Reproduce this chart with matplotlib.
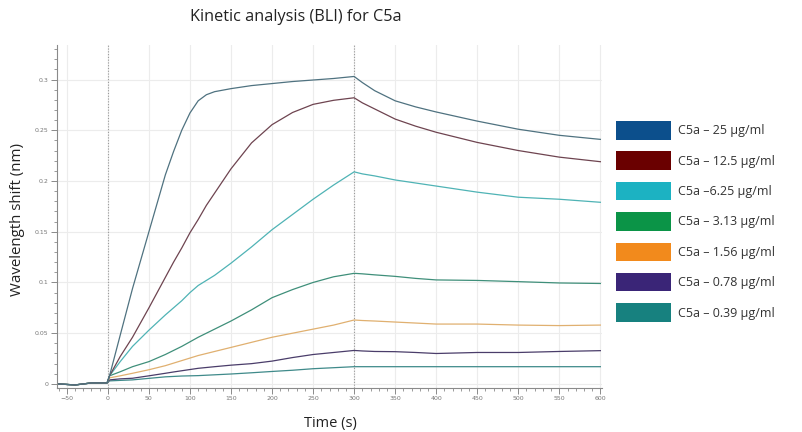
import matplotlib
matplotlib.use("Agg")
import matplotlib.pyplot as plt
from matplotlib.patches import Patch
from matplotlib.ticker import MultipleLocator, FuncFormatter

# ---- data ----
time_s = [-60, -40, -20, -1, 2, 15, 30, 50, 70, 80, 90, 100, 110, 120, 130,
          150, 175, 200, 225, 250, 275, 300, 310, 325, 350, 375, 400, 450,
          500, 550, 600]

c25 = [0.000, -0.001, 0.001, 0.001, 0.008, 0.048, 0.094, 0.150, 0.206, 0.229,
       0.250, 0.267, 0.279, 0.285, 0.288, 0.291, 0.294, 0.296, 0.298, 0.2995,
       0.301, 0.303, 0.297, 0.289, 0.279, 0.273, 0.268, 0.259, 0.251, 0.245,
       0.241]
c12_5 = [0.000, -0.001, 0.001, 0.001, 0.008, 0.027, 0.046, 0.075, 0.105, 0.120,
         0.134, 0.149, 0.162, 0.176, 0.188, 0.212, 0.2375, 0.2555, 0.2675,
         0.2755, 0.2795, 0.282, 0.277, 0.271, 0.261, 0.254, 0.248, 0.238,
         0.230, 0.2235, 0.219]
c6_25 = [0.000, -0.001, 0.001, 0.001, 0.008, 0.022, 0.037, 0.053, 0.068, 0.075,
         0.082, 0.090, 0.097, 0.102, 0.107, 0.119, 0.135, 0.152, 0.167, 0.182,
         0.196, 0.209, 0.207, 0.205, 0.201, 0.198, 0.195, 0.189, 0.184, 0.182,
         0.179]
c3_13 = [0.000, -0.001, 0.001, 0.001, 0.008, 0.012, 0.017, 0.022, 0.029, 0.033,
         0.037, 0.0415, 0.046, 0.050, 0.054, 0.062, 0.073, 0.085, 0.093, 0.100,
         0.1056, 0.109, 0.1085, 0.1075, 0.106, 0.104, 0.1025, 0.102, 0.1008,
         0.0995, 0.099]
c1_56 = [0.000, -0.001, 0.001, 0.001, 0.006, 0.008, 0.0105, 0.014, 0.018,
         0.0205, 0.023, 0.0255, 0.028, 0.030, 0.032, 0.036, 0.041, 0.046, 0.050,
         0.054, 0.058, 0.063, 0.0625, 0.062, 0.061, 0.060, 0.059, 0.059, 0.058,
         0.0575, 0.058]
c0_78 = [0.000, -0.001, 0.001, 0.001, 0.004, 0.005, 0.0056, 0.008, 0.0105,
         0.0118, 0.013, 0.0142, 0.0154, 0.0162, 0.017, 0.0185, 0.020, 0.0225,
         0.026, 0.029, 0.031, 0.033, 0.0325, 0.032, 0.0318, 0.031, 0.030,
         0.031, 0.031, 0.032, 0.0328]
c0_39 = [0.000, -0.001, 0.001, 0.001, 0.003, 0.0035, 0.004, 0.0055, 0.007,
         0.0074, 0.0078, 0.008, 0.0082, 0.0086, 0.009, 0.0098, 0.011, 0.0123,
         0.0135, 0.015, 0.016, 0.017, 0.017, 0.017, 0.017, 0.017, 0.017, 0.017,
         0.017, 0.017, 0.017]

labels = ["C5a – 25 µg/ml", "C5a – 12.5 µg/ml", "C5a –6.25 µg/ml",
          "C5a – 3.13 µg/ml", "C5a – 1.56 µg/ml", "C5a – 0.78 µg/ml",
          "C5a – 0.39 µg/ml"]
series = [c25, c12_5, c6_25, c3_13, c1_56, c0_78, c0_39]
line_colors = ["#4f7280", "#6e4450", "#4fb3b5", "#3f8f7a", "#e0b070",
               "#4a3d6a", "#3f8a8a"]
legend_colors = ["#0c4f8c", "#6a0000", "#1cb2c2", "#0b9447", "#f28a1c",
                 "#3a2577", "#17817f"]

# ---- figure ----
fig = plt.figure(figsize=(8.03, 4.32), dpi=100)
fig.patch.set_facecolor("white")
ax = fig.add_axes([57 / 803, 1 - 388 / 432, (602 - 57) / 803, (388 - 45) / 432])

for y, c in zip(series[::-1], line_colors[::-1]):
    ax.plot(time_s, y, color=c, lw=0.9, zorder=3)

ax.set_xlim(-62, 602)
ax.set_ylim(-0.004, 0.334)

ax.axvline(0, color="#9a9a9a", lw=0.8, ls=(0, (1, 1.5)), zorder=2)
ax.axvline(300, color="#9a9a9a", lw=0.8, ls=(0, (1, 1.5)), zorder=2)

ax.xaxis.set_major_locator(MultipleLocator(50))
ax.xaxis.set_minor_locator(MultipleLocator(10))
ax.yaxis.set_major_locator(MultipleLocator(0.05))
ax.yaxis.set_minor_locator(MultipleLocator(0.01))
ax.yaxis.set_major_formatter(FuncFormatter(lambda v, p: "%g" % round(v, 3)))
ax.grid(True, which="major", color="#ececec", lw=0.8, zorder=0)

for s in ["top", "right"]:
    ax.spines[s].set_visible(False)
for s in ["left", "bottom"]:
    ax.spines[s].set_color("#8a8a8a")
    ax.spines[s].set_linewidth(0.8)
ax.tick_params(which="major", length=4, width=0.7, color="#8a8a8a",
               labelsize=4.5, labelcolor="#777777", pad=2)
ax.tick_params(which="minor", length=2.5, width=0.6, color="#8a8a8a")

fig.text(296 / 803, 1 - 17 / 432, "Kinetic analysis (BLI) for C5a",
         ha="center", va="center", fontsize=11.7, family="Open Sans",
         color="#222222")
fig.text(18 / 803, 1 - 220 / 432, "Wavelength shift (nm)", rotation=90,
         ha="center", va="center", fontsize=10.8, family="Open Sans",
         color="#222222")
fig.text(330 / 803, 1 - 423 / 432, "Time (s)", ha="center", va="center",
         fontsize=10.5, family="Open Sans", color="#222222")

handles = [Patch(facecolor=c, edgecolor="none") for c in legend_colors]
fig.legend(handles, labels, loc="upper left",
           bbox_to_anchor=(616 / 803, 1 - 121 / 432), frameon=False,
           borderpad=0, borderaxespad=0, handlelength=4.4, handleheight=1.9,
           handletextpad=0.6, labelspacing=0.95,
           prop={"family": "Open Sans", "size": 9}, labelcolor="#333333")

fig.savefig("out.png", dpi=100)
